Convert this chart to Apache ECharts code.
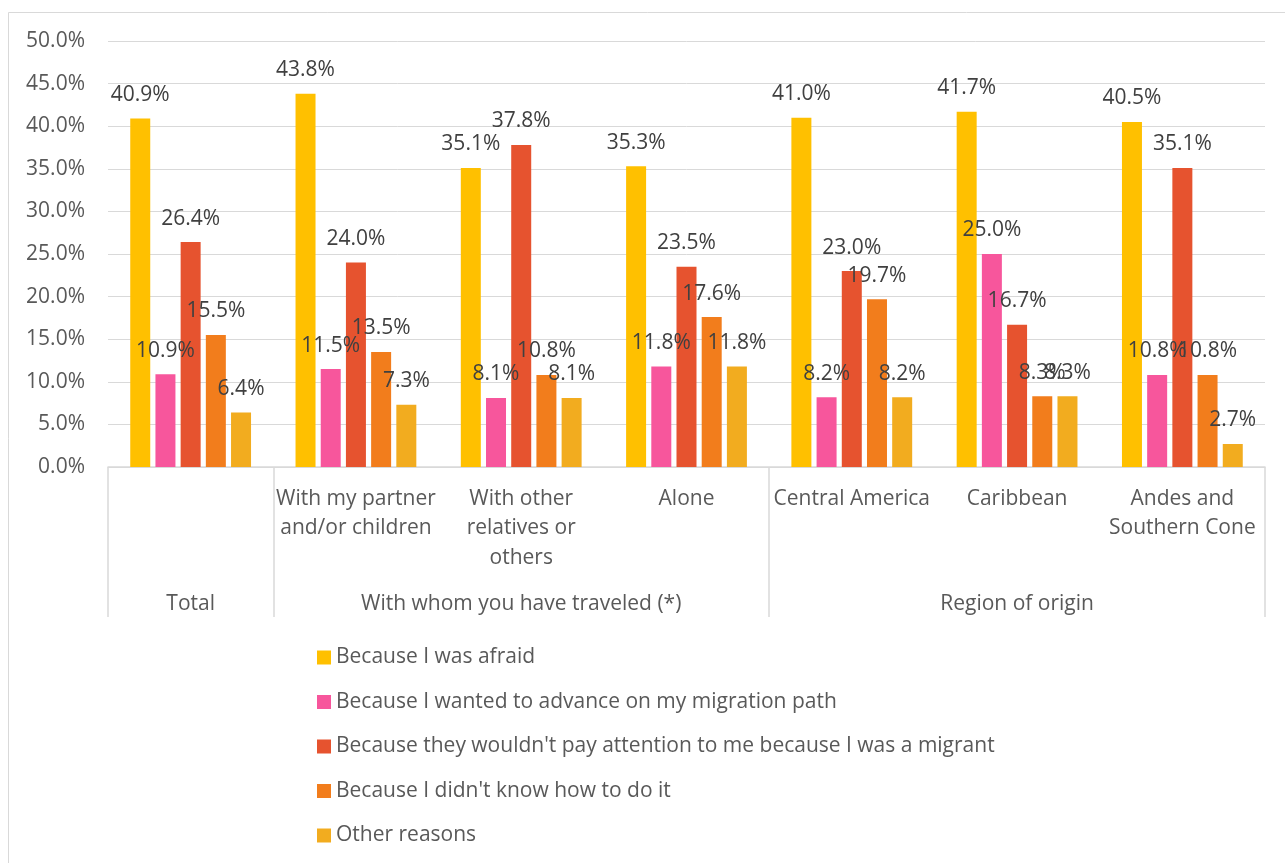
<!DOCTYPE html>
<html>
<head>
<meta charset="utf-8">
<script src="https://cdn.jsdelivr.net/npm/echarts@6/dist/echarts.min.js"></script>
<style>
  html, body { margin: 0; padding: 0; background: #ffffff; }
  #chart { width: 1285px; height: 863px; }
</style>
</head>
<body>
<div id="chart"></div>
<script>
// ---- data ----
const categories = [
  '',
  'With my partner\nand/or children',
  'With other\nrelatives or\nothers',
  'Alone',
  'Central America',
  'Caribbean',
  'Andes and\nSouthern Cone'
];
const groupNames = ['Total', 'With whom you have traveled (*)', 'Region of origin'];
const groupSpans = [1, 3, 3];

const seriesNames = [
  'Because I was afraid',
  'Because I wanted to advance on my migration path',
  "Because they wouldn't pay attention to me because I was a migrant",
  "Because I didn't know how to do it",
  'Other reasons'
];
const afraid    = [40.9, 43.8, 35.1, 35.3, 41.0, 41.7, 40.5];
const advance   = [10.9, 11.5, 8.1, 11.8, 8.2, 25.0, 10.8];
const attention = [26.4, 24.0, 37.8, 23.5, 23.0, 16.7, 35.1];
const didntKnow = [15.5, 13.5, 10.8, 17.6, 19.7, 8.3, 10.8];
const otherReas = [6.4, 7.3, 8.1, 11.8, 8.2, 8.3, 2.7];

const yMin = 0, yMax = 50, yStep = 5;

// ---- styles ----
const colors = ['#FFC000', '#F7569C', '#E6532F', '#F27D1C', '#F2AC1F'];
const FONT = '"Open Sans", "DejaVu Sans", sans-serif';
const AXIS_TEXT = '#595959';
const GRID_LINE = '#d9d9d9';

// build half-slot axis for the group level
const half = [];
const tickIdx = [0];
let pos = 0;
const nHalf = categories.length * 2 + 1;
for (let i = 0; i < nHalf; i++) half.push('');
groupNames.forEach((g, i) => {
  const centre = pos + groupSpans[i] / 2;  // in slot units
  half[Math.round(centre * 2)] = g;
  pos += groupSpans[i];
  tickIdx.push(pos * 2);
});

const allValues = [afraid, advance, attention, didntKnow, otherReas];

const chart = echarts.init(document.getElementById('chart'), null, { renderer: 'canvas' });
chart.setOption({
  animation: false,
  backgroundColor: '#ffffff',
  textStyle: { fontFamily: FONT },
  graphic: [{
    type: 'rect',
    shape: { x: 8.5, y: 12.5, width: 1300, height: 900 },
    style: { fill: 'none', stroke: GRID_LINE, lineWidth: 1 },
    silent: true
  }],
  grid: { left: 108, right: 20, top: 41, bottom: 396, containLabel: false, outerBoundsMode: 'none' },
  legend: {
    orient: 'vertical',
    left: 312,
    top: 642,
    itemWidth: 14,
    itemHeight: 14,
    itemGap: 23.5,
    icon: 'rect',
    textStyle: { fontFamily: FONT, fontSize: 21, color: AXIS_TEXT, lineHeight: 21 },
    data: seriesNames
  },
  xAxis: [{
    type: 'category',
    position: 'bottom',
    data: categories,
    axisLine: { show: true, lineStyle: { color: GRID_LINE, width: 1.5 } },
    axisTick: { show: false },
    axisLabel: {
      interval: 0,
      margin: 17,
      fontFamily: FONT,
      fontSize: 21,
      lineHeight: 29.5,
      color: AXIS_TEXT,
      align: 'center'
    },
    splitLine: { show: false }
  }, {
    type: 'category',
    position: 'bottom',
    boundaryGap: false,
    data: half,
    axisLine: { show: false },
    axisTick: {
      show: true,
      length: 150,
      interval: (idx) => tickIdx.indexOf(idx) >= 0,
      lineStyle: { color: GRID_LINE, width: 1.5 }
    },
    axisLabel: {
      interval: (idx, val) => val !== '',
      margin: 122,
      fontFamily: FONT,
      fontSize: 21,
      lineHeight: 29.5,
      color: AXIS_TEXT
    },
    splitLine: { show: false }
  }],
  yAxis: {
    type: 'value',
    min: yMin,
    max: yMax,
    interval: yStep,
    axisLine: { show: false },
    axisTick: { show: false },
    axisLabel: {
      margin: 23,
      fontFamily: FONT,
      fontSize: 21,
      color: AXIS_TEXT,
      formatter: (v) => v.toFixed(1) + '%'
    },
    splitLine: { lineStyle: { color: GRID_LINE, width: 1 } }
  },
  series: seriesNames.map((name, i) => ({
    name: name,
    type: 'bar',
    xAxisIndex: 0,
    data: allValues[i],
    barWidth: 20,
    barGap: '26%',
    itemStyle: { color: colors[i] },
    label: {
      show: true,
      position: 'top',
      distance: 13,
      fontFamily: FONT,
      fontSize: 21,
      color: '#404040',
      formatter: (p) => p.value.toFixed(1) + '%'
    }
  }))
});
</script>
</body>
</html>
